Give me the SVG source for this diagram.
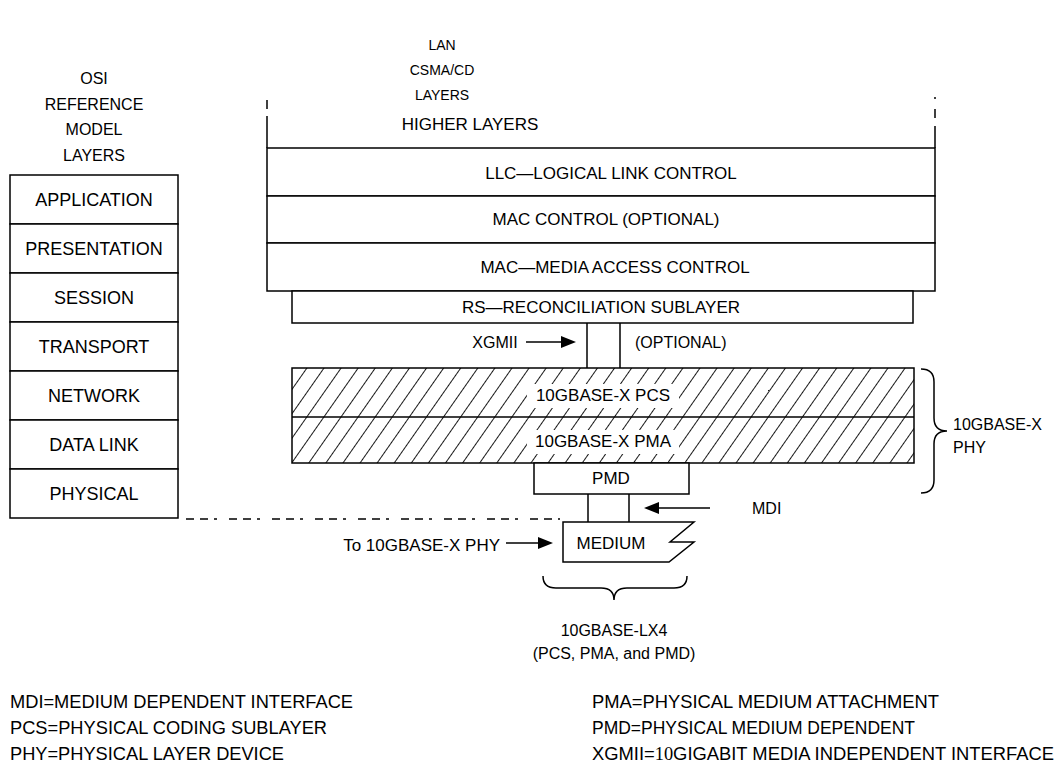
<svg xmlns="http://www.w3.org/2000/svg" width="1058" height="767" viewBox="0 0 1058 767">
<style>
text{font-family:"Liberation Sans",Arial,sans-serif;fill:#000;}
.t{font-size:17px;text-anchor:middle;}
.o{font-size:18px;text-anchor:middle;}
.h{font-size:16px;text-anchor:middle;}
.s{font-size:14px;text-anchor:middle;}
.st{font-size:16px;text-anchor:start;}
.en{font-size:17px;text-anchor:end;}
.l{font-size:18px;text-anchor:start;}
.b{fill:#fff;stroke:#000;stroke-width:1.5;}
.ln{fill:none;stroke:#000;stroke-width:1.5;}
.ah{fill:#000;stroke:none;}
</style>
<defs>
<pattern id="hatch" patternUnits="userSpaceOnUse" width="14" height="14" patternTransform="rotate(35)">
<line x1="0" y1="-2" x2="0" y2="16" stroke="#000" stroke-width="1.8"/>
</pattern>
</defs>
<rect x="0" y="0" width="1058" height="767" fill="#fff"/>

<g id="osi-title">
<text class="h" x="94" y="84">OSI</text>
<text class="h" x="94" y="110">REFERENCE</text>
<text class="h" x="94" y="135">MODEL</text>
<text class="h" x="94" y="161">LAYERS</text>
</g>
<g id="osi-application"><rect class="b" x="10" y="175" width="168" height="49"/><text class="o" x="94" y="206">APPLICATION</text></g>
<g id="osi-presentation"><rect class="b" x="10" y="224" width="168" height="49"/><text class="o" x="94" y="255">PRESENTATION</text></g>
<g id="osi-session"><rect class="b" x="10" y="273" width="168" height="49"/><text class="o" x="94" y="304">SESSION</text></g>
<g id="osi-transport"><rect class="b" x="10" y="322" width="168" height="49"/><text class="o" x="94" y="353">TRANSPORT</text></g>
<g id="osi-network"><rect class="b" x="10" y="371" width="168" height="49"/><text class="o" x="94" y="402">NETWORK</text></g>
<g id="osi-datalink"><rect class="b" x="10" y="420" width="168" height="49"/><text class="o" x="94" y="451">DATA LINK</text></g>
<g id="osi-physical"><rect class="b" x="10" y="469" width="168" height="49"/><text class="o" x="94" y="500">PHYSICAL</text></g>

<g id="lan-title">
<text class="s" x="442" y="50">LAN</text>
<text class="s" x="442" y="75">CSMA/CD</text>
<text class="s" x="442" y="100">LAYERS</text>
</g>

<g id="higher-layers">
<line class="ln" x1="267" y1="100" x2="267" y2="148" stroke-dasharray="9 7 40"/>
<line class="ln" x1="935" y1="97" x2="935" y2="148" stroke-dasharray="2 10 9 8 40"/>
<text class="t" x="470" y="130">HIGHER LAYERS</text>
</g>
<g id="llc"><rect class="b" x="267" y="148" width="668" height="48"/><text class="t" x="611" y="179">LLC—LOGICAL LINK CONTROL</text></g>
<g id="mac-control"><rect class="b" x="267" y="196" width="668" height="47"/><text class="t" x="606" y="225">MAC CONTROL (OPTIONAL)</text></g>
<g id="mac"><rect class="b" x="267" y="243" width="668" height="48"/><text class="t" x="615" y="273">MAC—MEDIA ACCESS CONTROL</text></g>
<g id="rs"><rect class="b" x="292" y="291" width="621" height="32"/><text class="t" x="601" y="313">RS—RECONCILIATION SUBLAYER</text></g>

<g id="pcs-pma">
<rect x="292" y="368" width="622" height="95" fill="url(#hatch)" stroke="none"/>
<rect x="527" y="384" width="152" height="24" fill="#fff"/>
<rect x="527" y="430" width="152" height="24" fill="#fff"/>
<rect class="ln" x="292" y="368" width="622" height="95"/>
<line class="ln" x1="292" y1="417" x2="914" y2="417"/>
<text class="t" x="603" y="401">10GBASE-X PCS</text>
<text class="t" x="603" y="447">10GBASE-X PMA</text>
</g>
<g id="pmd"><rect class="b" x="534" y="463" width="155" height="31"/><text class="t" x="611" y="484">PMD</text></g>
<g id="medium">
<polygon class="b" points="563,522 694,522 670,542 694,542 669,562 563,562"/>
<text class="t" x="611" y="549">MEDIUM</text>
</g>

<g id="phy-brace">
<path class="ln" d="M921,369 Q934,369 934,382 L934,418 Q934,431 947,431 Q934,431 934,444 L934,480 Q934,493 921,493"/>
<text class="st" x="953" y="430">10GBASE-X</text>
<text class="st" x="953" y="453">PHY</text>
</g>
<g id="lx4-brace">
<path class="ln" d="M543,576 Q543,588 556,588 L601,588 Q614,588 614,600 Q614,588 627,588 L674,588 Q687,588 687,576"/>
<text class="h" x="614" y="636">10GBASE-LX4</text>
<text class="h" x="614" y="659">(PCS, PMA, and PMD)</text>
</g>

<g id="connectors">
<line class="ln" x1="587" y1="323" x2="587" y2="368"/>
<line class="ln" x1="620" y1="323" x2="620" y2="368"/>
<line class="ln" x1="588" y1="494" x2="588" y2="522"/>
<line class="ln" x1="629" y1="494" x2="629" y2="522"/>
<line class="ln" x1="526" y1="342" x2="563" y2="342"/>
<polygon class="ah" points="576,342 561,336 561,348"/>
<line class="ln" x1="657" y1="508" x2="710" y2="508"/>
<polygon class="ah" points="644,508 659,502 659,514"/>
<line class="ln" x1="506" y1="543" x2="540" y2="543"/>
<polygon class="ah" points="553,543 538,537 538,549"/>
<line class="ln" x1="186" y1="519" x2="560" y2="519" stroke-dasharray="8 6 8 6 3 12"/>
</g>

<g id="labels">
<text class="h" x="495" y="348">XGMII</text>
<text class="st" x="635" y="348">(OPTIONAL)</text>
<text class="st" x="752" y="514">MDI</text>
<text class="en" x="500" y="551">To 10GBASE-X PHY</text>
</g>

<g id="legend">
<text class="l" x="10" y="708" textLength="343" lengthAdjust="spacingAndGlyphs">MDI=MEDIUM DEPENDENT INTERFACE</text>
<text class="l" x="10" y="734" textLength="317" lengthAdjust="spacingAndGlyphs">PCS=PHYSICAL CODING SUBLAYER</text>
<text class="l" x="10" y="760" textLength="274" lengthAdjust="spacingAndGlyphs">PHY=PHYSICAL LAYER DEVICE</text>
<text class="l" x="592" y="708" textLength="347" lengthAdjust="spacingAndGlyphs">PMA=PHYSICAL MEDIUM ATTACHMENT</text>
<text class="l" x="592" y="734" textLength="323" lengthAdjust="spacingAndGlyphs">PMD=PHYSICAL MEDIUM DEPENDENT</text>
<text class="l" x="592" y="760" textLength="462" lengthAdjust="spacingAndGlyphs">XGMII=<tspan font-family="Liberation Serif, serif">10</tspan>GIGABIT MEDIA INDEPENDENT INTERFACE</text>
</g>
</svg>
